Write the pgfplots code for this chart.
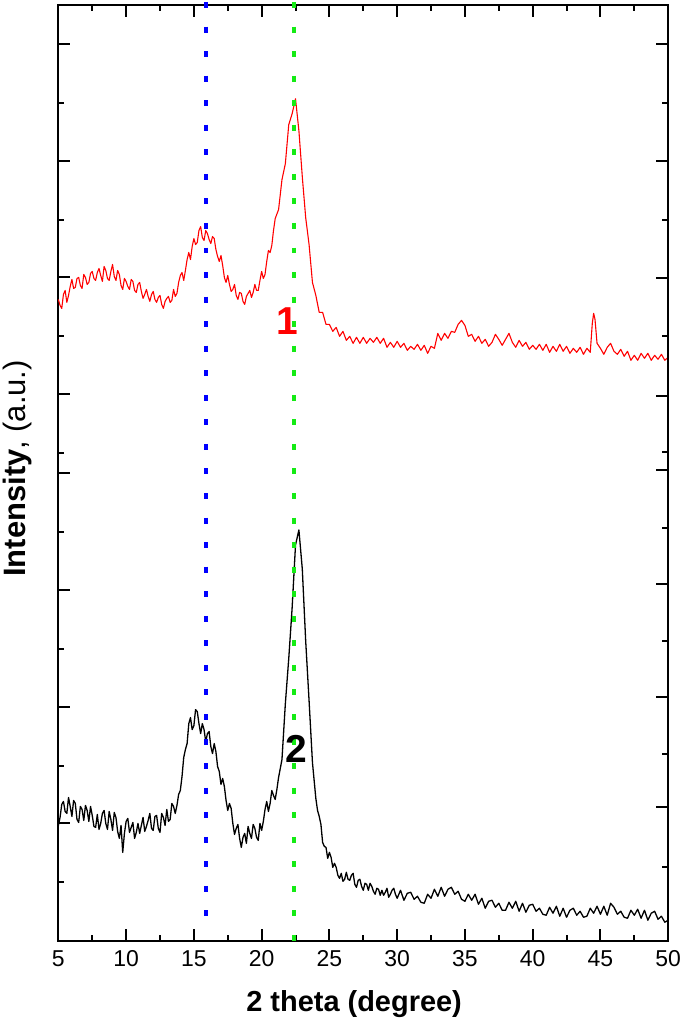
\documentclass[border=0pt]{standalone}
\usepackage{fontspec}
\setmainfont{Liberation Sans}
\usepackage{pgfplots}
\usepackage{pgfplotstable}
\pgfplotsset{compat=1.18}
\definecolor{vblue}{RGB}{0,0,255}
\definecolor{vgreen}{RGB}{20,235,20}

\pgfplotstableread{
x I
5.000 643
5.125 637
5.250 634
5.375 648
5.500 652
5.625 640
5.750 647
5.875 656
6.000 663
6.125 654
6.250 655
6.375 664
6.500 665
6.625 657
6.750 654
6.875 668
7.000 665
7.125 658
7.250 660
7.375 669
7.500 671
7.625 664
7.750 662
7.875 670
8.000 674
8.125 667
8.250 661
8.375 676
8.500 672
8.625 664
8.750 662
8.875 671
9.000 678
9.125 666
9.250 662
9.375 672
9.500 668
9.625 657
9.750 653
9.875 664
10.000 661
10.125 656
10.250 653
10.375 663
10.500 661
10.625 652
10.750 650
10.875 658
11.000 660
11.125 651
11.250 644
11.375 648
11.500 653
11.625 646
11.750 641
11.875 648
12.000 651
12.125 643
12.250 640
12.375 645
12.500 647
12.625 638
12.750 634
12.875 641
13.000 644
13.125 646
13.250 640
13.375 642
13.500 653
13.625 646
13.750 649
13.875 660
14.000 667
14.125 670
14.250 662
14.375 672
14.500 683
14.625 690
14.750 683
14.875 696
15.000 704
15.125 698
15.250 700
15.375 712
15.500 716
15.625 705
15.750 702
15.875 712
16.000 709
16.125 703
16.250 699
16.375 706
16.500 704
16.625 693
16.750 686
16.875 681
17.000 687
17.125 677
17.250 665
17.375 660
17.500 667
17.625 658
17.750 651
17.875 653
18.000 658
18.125 647
18.250 643
18.375 650
18.500 649
18.625 641
18.750 638
18.875 646
19.000 649
19.125 652
19.250 645
19.375 650
19.500 658
19.625 652
19.750 652
19.875 662
20.000 671
20.125 664
20.250 668
20.375 681
20.500 692
20.625 690
20.750 697
20.875 712
21.00 724
21.25 733
21.50 763
21.75 779
22.00 818
22.25 829
22.50 844
22.75 812
23.00 766
23.25 725
23.50 698
23.75 660
24.00 647
24.25 630
24.50 630
24.75 618
25.00 618
25.25 611
25.50 615
25.75 606
26.00 611
26.25 602
26.50 606
26.75 599
27.00 605
27.25 599
27.50 605
27.75 599
28.00 604
28.25 600
28.50 605
28.75 599
29.00 604
29.25 595
29.50 600
29.75 595
30.00 601
30.25 595
30.50 599
30.75 592
31.00 596
31.25 593
31.50 598
31.75 592
32.00 597
32.25 589
32.50 596
32.75 594
33.00 609
33.25 602
33.50 609
33.75 604
34.00 611
34.25 610
34.50 618
34.75 622
35.00 617
35.25 606
35.50 608
35.75 601
36.00 606
36.25 599
36.50 603
36.75 596
37.00 600
37.25 608
37.50 603
37.75 597
38.00 603
38.25 609
38.50 600
38.75 595
39.00 602
39.25 596
39.50 600
39.75 593
40.00 597
40.25 593
40.50 598
40.75 592
41.00 598
41.25 590
41.50 596
41.75 591
42.00 598
42.25 591
42.50 596
42.75 589
43.00 594
43.25 590
43.50 595
43.75 588
44.00 594
44.25 590
44.40 619
44.50 629
44.60 623
44.75 599
45.00 594
45.25 588
45.50 595
45.75 599
46.00 591
46.25 588
46.50 593
46.75 586
47.00 591
47.25 582
47.50 587
47.75 582
48.00 589
48.25 584
48.50 589
48.75 582
49.00 587
49.25 583
49.50 588
49.75 582
50.00 585
}\redtable

\pgfplotstableread{
x I
5.000 116
5.125 124
5.250 137
5.375 140
5.500 130
5.625 128
5.750 144
5.875 135
6.000 125
6.125 141
6.250 138
6.375 122
6.500 119
6.625 135
6.750 132
6.875 121
7.000 136
7.125 131
7.250 120
7.375 135
7.500 126
7.625 115
7.750 114
7.875 127
8.000 112
8.125 118
8.250 128
8.375 131
8.500 118
8.625 112
8.750 130
8.875 122
9.000 111
9.125 129
9.250 124
9.375 110
9.500 103
9.625 116
9.750 89
9.875 108
10.000 120
10.125 123
10.250 109
10.375 114
10.500 119
10.625 103
10.750 109
10.875 118
11.000 108
11.125 116
11.250 124
11.375 110
11.500 115
11.625 121
11.750 128
11.875 113
12.000 111
12.125 125
12.250 126
12.375 113
12.500 109
12.625 128
12.750 124
12.875 116
13.000 132
13.125 120
13.250 122
13.375 138
13.500 135
13.625 128
13.750 136
13.875 147
14.000 151
14.125 165
14.250 184
14.375 192
14.500 198
14.625 218
14.750 224
14.875 212
15.000 216
15.125 232
15.250 230
15.375 218
15.500 208
15.625 218
15.750 212
15.875 200
16.000 208
16.125 210
16.250 195
16.375 188
16.500 198
16.625 190
16.750 175
16.875 170
17.000 157
17.125 163
17.250 155
17.375 141
17.500 131
17.625 138
17.750 133
17.875 118
18.000 107
18.125 113
18.250 117
18.375 103
18.500 94
18.625 104
18.750 108
18.875 98
19.000 115
19.125 108
19.250 103
19.375 117
19.500 113
19.625 104
19.750 101
19.875 118
20.000 111
20.125 120
20.250 132
20.375 140
20.500 130
20.625 138
20.750 151
20.875 146
21.000 142
21.125 152
21.25 164
21.50 182
21.75 238
22.00 283
22.25 334
22.50 397
22.75 412
23.00 373
23.25 301
23.50 241
23.75 179
24.000 143
24.125 131
24.250 125
24.375 117
24.500 99
24.625 95
24.750 94
24.875 83
25.000 89
25.125 84
25.250 74
25.375 78
25.500 74
25.625 66
25.750 63
25.875 68
26.000 60
26.125 62
26.250 69
26.375 62
26.500 61
26.625 66
26.750 68
26.875 57
27.000 54
27.125 61
27.250 62
27.375 55
27.500 51
27.625 58
27.750 57
27.875 51
28.000 58
28.125 55
28.250 50
28.375 47
28.500 53
28.625 52
28.750 46
28.875 51
29.000 46
29.125 49
29.250 53
29.375 44
29.500 47
29.625 51
29.750 53
29.875 47
30.00 43
30.25 51
30.50 41
30.75 48
31.00 49
31.25 42
31.50 45
31.75 39
32.00 38
32.25 47
32.50 43
32.75 52
33.00 45
33.25 54
33.50 45
33.75 52
34.00 54
34.25 47
34.50 50
34.75 42
35.00 40
35.25 47
35.50 41
35.75 47
36.00 37
36.25 43
36.50 33
36.75 40
37.00 41
37.25 34
37.50 38
37.75 31
38.00 31
38.25 39
38.50 33
38.75 40
39.00 30
39.25 38
39.50 29
39.75 36
40.00 37
40.25 30
40.50 33
40.75 27
41.00 26
41.25 34
41.50 28
41.75 35
42.00 25
42.25 33
42.50 24
42.75 31
43.00 33
43.25 26
43.50 30
43.75 24
44.00 25
44.25 33
44.50 28
44.75 35
45.00 27
45.25 35
45.50 26
45.75 38
46.00 34
46.25 27
46.50 30
46.75 24
47.00 23
47.25 31
47.50 26
47.75 32
48.00 23
48.25 31
48.50 21
48.75 28
49.00 30
49.25 22
49.50 25
49.75 19
50.00 21
}\blacktable

\begin{document}
\begin{tikzpicture}
\begin{axis}[
  width=305.5pt, height=469pt, scale only axis,
  xmin=5, xmax=50, ymin=0, ymax=938,
  clip=false,
  axis line style={line width=1pt},
  every tick/.style={line width=1pt, black},
  major tick length=6pt, minor tick length=3pt,
  tick align=inside,
  xtick={5,10,...,50}, minor x tick num=1,
  xtick pos=both,
  ytick={118,235,352,469,548,665,782,899},
  minor ytick={59,176,293,410,489,606,723,840},
  ytick pos=left,
  yticklabels={},
  /pgf/number format/assume math mode=true,
  xticklabel style={font=\fontsize{11.5}{13}\selectfont, inner sep=0pt, yshift=-4.5pt},
  xlabel={\textbf{2 theta (degree)}},
  ylabel={\textbf{Intensity}, (a.u.)},
  every axis x label/.style={at={(axis description cs:0.485,-0.067)}, anchor=center, inner sep=0pt, font=\fontsize{14.5}{17}\selectfont},
  every axis y label/.style={at={(axis description cs:-0.0663,0.505)}, rotate=90, anchor=center, inner sep=0pt, font=\fontsize{15.5}{18}\selectfont},
]
\addplot[red, line width=0.55pt, line join=round] table[x=x, y=I] {\redtable};
\addplot[black, line width=0.65pt, line join=round] table[x=x, y=I] {\blacktable};
\addplot[vblue, line width=2pt, dash pattern=on 3pt off 9.3pt] coordinates {(15.9,941) (15.9,15)};
\addplot[vgreen, line width=2pt, dash pattern=on 3pt off 9.3pt] coordinates {(22.4,941) (22.4,-6)};
\node[red, font=\bfseries\fontsize{19.5}{22}\selectfont] at (axis cs:21.9,621) {1};
\node[black, font=\bfseries\fontsize{19.5}{22}\selectfont] at (axis cs:22.56,193) {2};
\path (rel axis cs:-0.0957,-0.0938) rectangle (rel axis cs:1.0254,1.0032);
\end{axis}
\begin{axis}[
  width=305.5pt, height=469pt, scale only axis,
  xmin=5, xmax=50, ymin=0, ymax=938,
  axis x line=none, axis y line*=right,
  axis line style={line width=1pt, -},
  every tick/.style={line width=1pt, black},
  major tick length=6pt, minor tick length=3pt,
  tick align=inside,
  ytick={134,245,358,472,546,664,782,899},
  minor ytick={74,188,301,414,490,606,723,840},
  yticklabels={},
]
\end{axis}
\end{tikzpicture}
\end{document}
